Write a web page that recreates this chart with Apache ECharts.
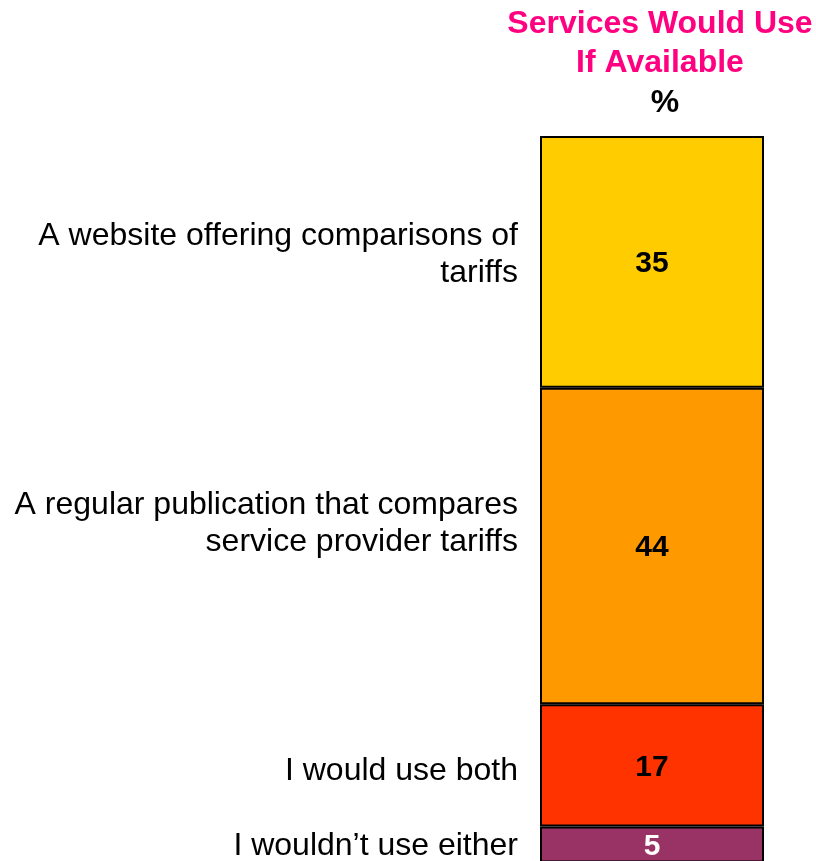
<!DOCTYPE html>
<html>
<head>
<meta charset="utf-8">
<script src="https://cdn.jsdelivr.net/npm/echarts@6/dist/echarts.min.js"></script>
<style>
  html, body { margin: 0; padding: 0; background: #fff; }
  #chart { width: 816px; height: 861px; }
</style>
</head>
<body>
<div id="chart"></div>
<script>
// Answer categories, stacked top to bottom
const categories = [
  'A website offering comparisons of\ntariffs',
  'A regular publication that compares\nservice provider tariffs',
  'I would use both',
  'I wouldn\u2019t use either'
];
// Share of respondents (%)
const values = [35, 44, 17, 5];
const segmentColors = ['#FFCC00', '#FF9900', '#FF3300', '#993366'];
const valueLabelColors = ['#000000', '#000000', '#000000', '#FFFFFF'];
// Vertical nudges for the category captions
const captionOffsets = [-7, -22, 6, 2];

const FONT = "'Liberation Sans', Arial, sans-serif";

const series = [];
values.forEach((v, i) => {
  // Coloured segment with its value in the middle
  series.push({
    type: 'bar',
    stack: 'share',
    name: categories[i],
    data: [v],
    barWidth: '100%',
    itemStyle: { color: segmentColors[i], borderColor: '#000', borderWidth: 2 },
    label: {
      show: true,
      position: 'inside',
      color: valueLabelColors[i],
      fontFamily: FONT,
      fontWeight: 'bold',
      fontSize: 30,
      offset: [0, 2]
    },
    z: 2
  });
});
values.forEach((v, i) => {
  // Transparent twin segment that carries the category caption on the left
  series.push({
    type: 'bar',
    stack: 'captions',
    data: [v],
    barWidth: '100%',
    barGap: '-100%',
    silent: true,
    itemStyle: { color: 'rgba(0,0,0,0)' },
    label: {
      show: true,
      position: 'left',
      distance: 22,
      align: 'right',
      formatter: () => categories[i],
      color: '#000',
      fontFamily: FONT,
      fontSize: 32,
      lineHeight: 37,
      offset: [0, captionOffsets[i]]
    },
    z: 1
  });
});

const chart = echarts.init(document.getElementById('chart'));
chart.setOption({
  animation: false,
  backgroundColor: '#fff',
  // the last segment runs past the bottom edge of the page
  grid: {
    left: 540, width: 224, top: 136, height: 730,
    containLabel: false,
    outerBoundsMode: 'none'
  },
  xAxis: {
    type: 'category',
    data: [''],
    show: false
  },
  yAxis: {
    type: 'value',
    inverse: true,
    min: 0,
    max: 101.5,
    show: false
  },
  graphic: [
    {
      type: 'text', x: 660, y: 5, z: 10,
      style: {
        text: 'Services Would Use\nIf Available',
        align: 'center',
        fill: '#FF0080', font: "bold 32px 'Liberation Sans', Arial, sans-serif", lineHeight: 39
      }
    },
    {
      type: 'text', x: 665, y: 87, z: 10,
      style: {
        text: '%', align: 'center',
        fill: '#000', font: "bold 32px 'Liberation Sans', Arial, sans-serif"
      }
    }
  ],
  series: series
});
</script>
</body>
</html>
